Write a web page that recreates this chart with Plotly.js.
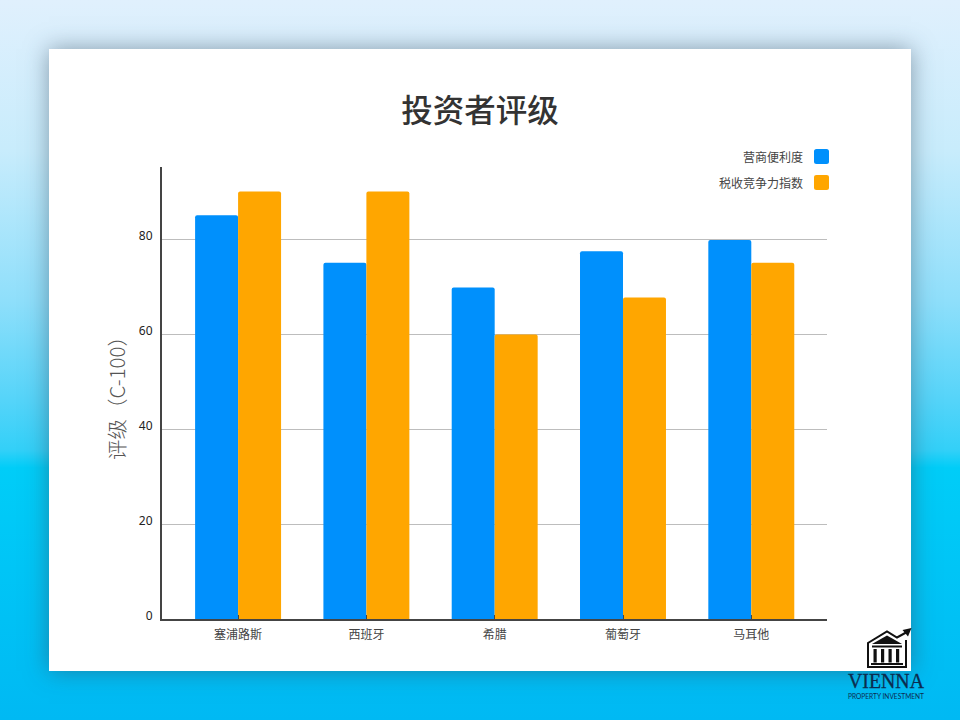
<!DOCTYPE html>
<html>
<head>
<meta charset="utf-8">
<script src="https://cdn.plot.ly/plotly-3.0.1.min.js"></script>
<style>
html,body{margin:0;padding:0;width:960px;height:720px;overflow:hidden}
body{position:relative;background:linear-gradient(180deg,#e0f0fd 0px,#c8ecfc 150px,#8fdffb 300px,#55d4f9 400px,#33d0f8 450px,#00cdf8 468px,#00b9f3 720px)}
#card{position:absolute;left:49px;top:49px;width:862px;height:622px;background:#fff;box-shadow:0 0 22px rgba(50,70,90,.5)}
#chart{position:absolute;left:0;top:0;width:960px;height:720px}
#logo{position:absolute;left:0;top:0;pointer-events:none}
</style>
</head>
<body>
<div id="card"></div>
<div id="chart"></div>
<svg id="logo" width="960" height="720" viewBox="0 0 960 720">
  <g fill="none" stroke="#111" stroke-width="2">
    <path d="M906 640V667H868V643L887 631.5L897 637.5L907 632"/>
  </g>
  <path d="M911.5 628L902.5 630L908 636.5Z" fill="#111"/>
  <path d="M887 635.5L872 644H902Z" fill="#111"/>
  <g fill="#111">
    <rect x="872" y="645.5" width="30" height="2"/>
    <rect x="873.5" y="649" width="3.2" height="13.5"/>
    <rect x="881" y="649" width="3.2" height="13.5"/>
    <rect x="888.5" y="649" width="3.2" height="13.5"/>
    <rect x="896" y="649" width="3.2" height="13.5"/>
    <rect x="871" y="663" width="32" height="2"/>
  </g>
  <text x="886" y="688" text-anchor="middle" font-family="Liberation Serif" font-size="20" textLength="76" lengthAdjust="spacingAndGlyphs" fill="#0b2c4f" stroke="#0b2c4f" stroke-width="0.3">VIENNA</text>
  <text x="886" y="698.8" text-anchor="middle" font-family="Lato" font-size="6.8" textLength="76" lengthAdjust="spacingAndGlyphs" fill="#0b2c4f">PROPERTY INVESTMENT</text>
</svg>
<script>
const categories = ['塞浦路斯', '西班牙', '希腊', '葡萄牙', '马耳他'];
const seriesNames = ['营商便利度', '税收竞争力指数'];
const businessEase = [85, 75, 69.8, 77.4, 79.8];
const taxCompetitiveness = [90, 90, 59.9, 67.7, 75];
const seriesColors = ['#0090fc', '#ffa600'];
const yTicks = [0, 20, 40, 60, 80];
const chartTitle = '投资者评级';
const yTitle = '评级（C-100）';

const CJK = '"Noto Sans CJK SC","Noto Sans",sans-serif';
const L = 162, R = 827, T = 167, B = 619;
const px = x => (x - L) / (R - L);
const py = y => (B - y) / (B - T);
function swatch(x0, y0, x1, y1, r, color) {
  const X = v => px(v).toFixed(5), Y = v => py(v).toFixed(5);
  return {
    type: 'path', xref: 'paper', yref: 'paper', fillcolor: color, line: {width: 0},
    path: `M${X(x0 + r)},${Y(y0)} L${X(x1 - r)},${Y(y0)} Q${X(x1)},${Y(y0)} ${X(x1)},${Y(y0 + r)} ` +
          `L${X(x1)},${Y(y1 - r)} Q${X(x1)},${Y(y1)} ${X(x1 - r)},${Y(y1)} L${X(x0 + r)},${Y(y1)} ` +
          `Q${X(x0)},${Y(y1)} ${X(x0)},${Y(y1 - r)} L${X(x0)},${Y(y0 + r)} Q${X(x0)},${Y(y0)} ${X(x0 + r)},${Y(y0)} Z`
  };
}

const traces = [businessEase, taxCompetitiveness].map((vals, i) => ({
  type: 'bar', name: seriesNames[i], x: categories, y: vals,
  marker: {color: seriesColors[i], cornerradius: 2, line: {width: 0}}
}));

const layout = {
  width: 960, height: 720,
  margin: {l: L, r: 960 - R, t: T, b: 720 - B, pad: 0},
  paper_bgcolor: 'rgba(0,0,0,0)', plot_bgcolor: 'rgba(0,0,0,0)',
  barmode: 'group', bargap: 0.33, bargroupgap: 0, showlegend: false,
  title: {text: chartTitle, font: {family: CJK, size: 31.5, color: '#333', weight: 500},
          x: 0.5, xref: 'container', xanchor: 'center', y: 1 - 110.5 / 720, yref: 'container', yanchor: 'middle'},
  xaxis: {
    type: 'category', range: [-0.593, 4.59], showgrid: false, zeroline: false,
    showline: true, linecolor: '#444', linewidth: 2,
    ticks: 'inside', ticklen: 4, tickwidth: 1, tickcolor: '#444',
    tickfont: {family: CJK, size: 12, color: '#444'}, ticklabelstandoff: 4
  },
  yaxis: {
    range: [0, 95.16], tickvals: yTicks, ticktext: yTicks.map(String),
    showgrid: true, gridcolor: '#bdbdbd', gridwidth: 1, zeroline: false,
    showline: true, linecolor: '#444', linewidth: 2, ticks: '',
    tickfont: {family: '"Noto Sans",sans-serif', size: 12, color: '#222'},
    ticklabelstandoff: 5, ticklabelshift: -3,
    title: {text: yTitle, font: {family: CJK, size: 20.5, color: '#555', weight: 300}, standoff: 8}
  },
  shapes: [swatch(814, 149, 829, 164, 2.5, seriesColors[0]), swatch(814, 175, 829, 190, 2.5, seriesColors[1])],
  annotations: seriesNames.map((n, i) => ({
    text: n, xref: 'paper', yref: 'paper', x: px(805), y: py(156.5 + 26 * i), xanchor: 'right', yanchor: 'middle',
    showarrow: false, font: {family: CJK, size: 12, color: '#444'}
  }))
};
Plotly.newPlot('chart', traces, layout, {displayModeBar: false, staticPlot: true});
</script>
</body>
</html>
